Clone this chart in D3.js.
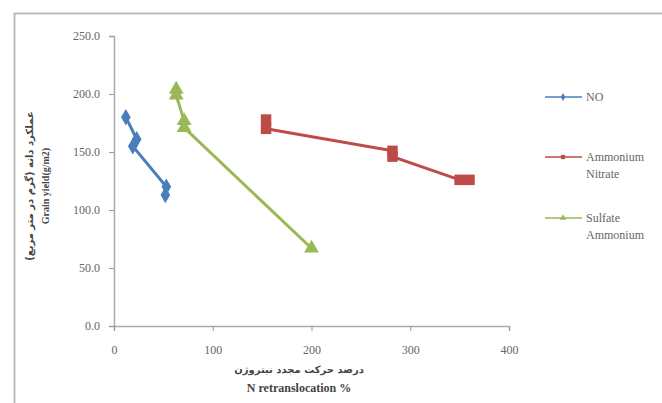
<!DOCTYPE html>
<html lang="en">
<head>
  <meta charset="UTF-8">
  <script src="https://d3js.org/d3.v7.min.js"></script>
  <style>
    body { margin: 0; background: #fff; }
  </style>
</head>
<body>
<div id="chart"></div>
<script>
// values
const seriesNames = ['NO', 'Ammonium Nitrate', 'Sulfate Ammonium'];
const noX = [12, 23, 19, 53, 52];
const noY = [180, 161, 155, 120, 113];
const anX = [154, 154, 282, 282, 350, 360];
const anY = [178, 170, 151, 146, 126, 126];
const saX = [63, 63, 71, 71, 200];
const saY = [204, 199, 177, 171, 67];
const xTicks = [0, 100, 200, 300, 400];
const yTicks = [0, 50, 100, 150, 200, 250];

const serif = '"Liberation Serif", "Times New Roman", "DejaVu Serif", serif';
const width = 662, height = 403;
const svg = d3.select('#chart').append('svg')
  .attr('width', width).attr('height', height);

// outer frame (only top/left edges visible)
svg.append('path')
  .attr('d', 'M14.5,403 V13.5 H662')
  .attr('fill', 'none').attr('stroke', '#bbb').attr('stroke-width', 2);

const x = d3.scaleLinear().domain([0, 400]).range([114, 509]);
const y = d3.scaleLinear().domain([0, 250]).range([326, 36]);

const yAxis = svg.append('g')
  .attr('transform', 'translate(114,0)')
  .call(d3.axisLeft(y).tickValues(yTicks).tickFormat(d3.format('.1f')).tickSize(5).tickPadding(9));
const xAxis = svg.append('g')
  .attr('transform', 'translate(0,326)')
  .call(d3.axisBottom(x).tickValues(xTicks).tickSize(5).tickPadding(14));
[xAxis, yAxis].forEach(g => {
  g.attr('font-family', null);
  g.selectAll('path, line').attr('stroke', '#999');
  g.selectAll('text').style('font-size', '12px').style('font-family', serif).attr('fill', '#666');
  g.select('.domain').attr('stroke', '#aaa').attr('stroke-width', 1.5);
});

const series = [
  { name: seriesNames[0], xs: noX, ys: noY, color: '#4a7ebb', shape: d3.symbolDiamond, size: 80, legY: 97 },
  { name: seriesNames[1], xs: anX, ys: anY, color: '#be4b48', shape: d3.symbolSquare, size: 110, legY: 157 },
  { name: seriesNames[2], xs: saX, ys: saY, color: '#98b954', shape: d3.symbolTriangle, size: 95, legY: 218 }
];

const line = d3.line().x(d => x(d[0])).y(d => y(d[1]));

series.forEach(s => {
  const pts = s.xs.map((v, i) => [v, s.ys[i]]);
  svg.append('path')
    .attr('d', line(pts))
    .attr('fill', 'none')
    .attr('stroke', s.color)
    .attr('stroke-width', 3);
  svg.append('g').selectAll('path')
    .data(pts)
    .enter().append('path')
    .attr('d', d3.symbol().type(s.shape).size(s.size))
    .attr('transform', d => `translate(${x(d[0])},${y(d[1])})`)
    .attr('fill', s.color);

  // legend entry
  const lg = svg.append('g').attr('transform', `translate(545,${s.legY})`);
  lg.append('line').attr('x1', 0).attr('x2', 37).attr('y1', 0).attr('y2', 0)
    .attr('stroke', s.color).attr('stroke-width', 1.5);
  lg.append('path').attr('d', d3.symbol().type(s.shape).size(18))
    .attr('transform', 'translate(18,0)').attr('fill', s.color);
  s.name.split(' ').forEach((w, i) => {
    lg.append('text').attr('x', 41).attr('y', 4 + i * 17)
      .style('font-size', '12px').style('font-family', serif).attr('fill', '#666').text(w);
  });
});

// axis titles
svg.append('text')
  .attr('transform', 'translate(33,186) rotate(-90)')
  .attr('text-anchor', 'middle').attr('fill', '#444')
  .style('font-size', '10px').style('font-weight', 'bold')
  .style('font-family', '"DejaVu Sans", sans-serif')
  .text('عملکرد دانه (گرم در متر مربع)');
svg.append('text')
  .attr('transform', 'translate(49,186) rotate(-90)')
  .attr('text-anchor', 'middle').attr('fill', '#444')
  .style('font-size', '10px').style('font-family', serif).style('font-weight', 'bold')
  .text('Grain yield(g/m2)');
svg.append('text')
  .attr('x', 299).attr('y', 373)
  .attr('text-anchor', 'middle').attr('fill', '#444')
  .style('font-size', '10px').style('font-weight', 'bold')
  .style('font-family', '"DejaVu Sans", sans-serif')
  .text('درصد حرکت مجدد نیتروژن');
svg.append('text')
  .attr('x', 299).attr('y', 392)
  .attr('text-anchor', 'middle').attr('fill', '#444')
  .style('font-size', '12px').style('font-family', serif).style('font-weight', 'bold')
  .text('N retranslocation %');
</script>
</body>
</html>
